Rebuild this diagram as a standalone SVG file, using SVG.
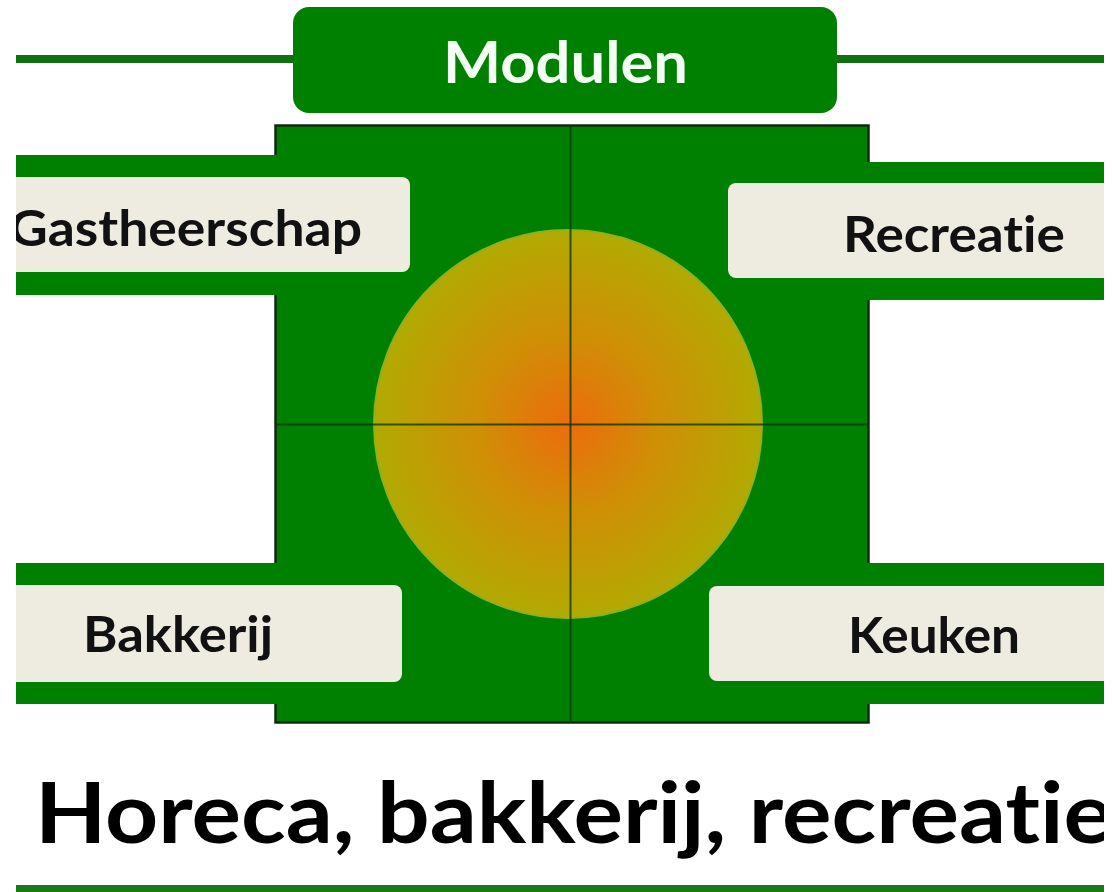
<svg xmlns="http://www.w3.org/2000/svg" width="1112" height="892" viewBox="0 0 1112 892">
  <defs>
    <clipPath id="crop"><rect x="16" y="0" width="1088" height="892"/></clipPath>
    <radialGradient id="sun" cx="0.5" cy="0.5" r="0.5">
      <stop offset="0" stop-color="#ec6c0c"/>
      <stop offset="0.45" stop-color="#d08e06"/>
      <stop offset="1" stop-color="#b2aa02"/>
    </radialGradient>
    <style>
      text { font-variant-ligatures: none; font-feature-settings: "liga" 0, "clig" 0; }
      .green { fill: #008000; }
      .band { fill: #008000; }
      .wire { stroke: #107010; stroke-width: 8; fill: none; }
      .box { fill: #EEECE1; }
      .lbl { font-family: Lato, "Open Sans", "Liberation Sans", sans-serif; font-weight: 700; font-size: 50px; fill: #111; }
      .div { stroke: #0c3a0c; stroke-width: 2; }
    </style>
  </defs>
  <rect width="1112" height="892" fill="#ffffff"/>
  <g clip-path="url(#crop)">
    <g id="core">
      <rect x="275.5" y="125.5" width="593" height="597" class="green" stroke="#0f2a0f" stroke-width="2.5"/>
    </g>
    <g id="connectors">
      <line x1="0" y1="59" x2="294" y2="59" class="wire"/>
      <line x1="836" y1="59" x2="1112" y2="59" class="wire"/>
      <rect x="0" y="155" width="280" height="140" class="band"/>
      <rect x="864" y="162" width="248" height="138" class="band"/>
      <rect x="0" y="563" width="280" height="141" class="band"/>
      <rect x="864" y="563" width="248" height="141" class="band"/>
      <rect x="16" y="885" width="1088" height="7" fill="#1a7a1a"/>
    </g>
    <g id="circle">
      <circle cx="568" cy="424" r="194" fill="url(#sun)" stroke="#8fb020" stroke-width="2"/>
      <line x1="570.5" y1="126" x2="570.5" y2="722" class="div" opacity="0.8"/>
      <line x1="276" y1="424.5" x2="868" y2="424.5" class="div" opacity="0.8"/>
    </g>
    <g id="modulen">
      <rect x="293" y="7" width="544" height="106" rx="16" ry="16" class="green"/>
      <text x="443" y="83" textLength="245" lengthAdjust="spacingAndGlyphs" font-family="Lato, 'Open Sans', 'Liberation Sans', sans-serif" font-weight="700" font-size="58" fill="#f4fff4">Modulen</text>
    </g>
    <g id="gastheerschap">
      <rect x="-20" y="177" width="430" height="95" rx="8" ry="8" class="box"/>
      <text x="9" y="246" textLength="353" lengthAdjust="spacingAndGlyphs" class="lbl">Gastheerschap</text>
    </g>
    <g id="recreatie">
      <rect x="728" y="183" width="420" height="95" rx="8" ry="8" class="box"/>
      <text x="843" y="252" textLength="222" lengthAdjust="spacingAndGlyphs" class="lbl">Recreatie</text>
    </g>
    <g id="bakkerij">
      <rect x="-20" y="585" width="422" height="97" rx="8" ry="8" class="box"/>
      <text x="83" y="652" textLength="190" lengthAdjust="spacingAndGlyphs" class="lbl">Bakkerij</text>
    </g>
    <g id="keuken">
      <rect x="709" y="586" width="440" height="95" rx="8" ry="8" class="box"/>
      <text x="848" y="653" textLength="172" lengthAdjust="spacingAndGlyphs" class="lbl">Keuken</text>
    </g>
    <g id="title">
      <text x="35" y="843" textLength="1078" lengthAdjust="spacingAndGlyphs" font-family="Lato, 'Open Sans', 'Liberation Sans', sans-serif" font-weight="700" font-size="85" fill="#000">Horeca, bakkerij, recreatie</text>
    </g>
  </g>
</svg>
